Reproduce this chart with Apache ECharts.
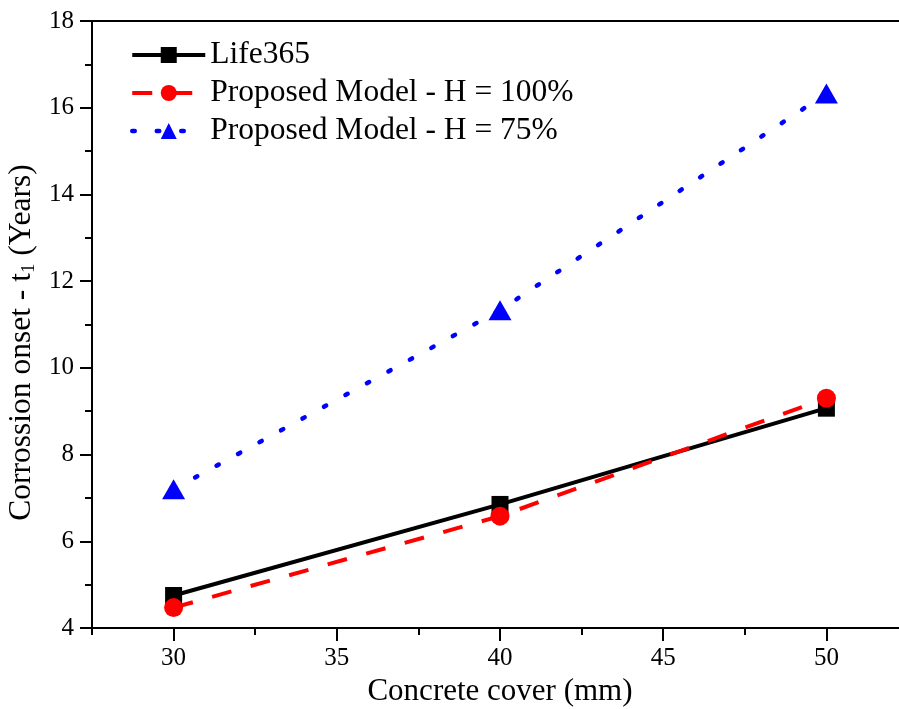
<!DOCTYPE html>
<html>
<head>
<meta charset="utf-8">
<script src="https://cdn.jsdelivr.net/npm/echarts@6/dist/echarts.min.js"></script>
<style>html,body{margin:0;padding:0;background:#fff}#c{width:899px;height:709px}</style>
</head>
<body>
<div id="c"></div>
<script>
var covers = [30, 40, 50];
var life365 = [4.75, 6.85, 9.07];
var modelH100 = [4.47, 6.58, 9.3];
var modelH75 = [7.2, 11.33, 16.33];
var xMajorTicks = [30, 35, 40, 45, 50];
var seriesNames = ['Life365', 'Proposed Model - H = 100%', 'Proposed Model - H = 75%'];

function pairs(ys) { return covers.map(function (x, i) { return [x, ys[i]]; }); }

var FONT = 'Liberation Serif';
var chart = echarts.init(document.getElementById('c'));
chart.setOption({
  animation: false,
  backgroundColor: '#fff',
  textStyle: { fontFamily: FONT, color: '#000' },
  grid: { left: 92, top: 21, width: 816, height: 607, outerBoundsMode: 'none', containLabel: false,
          show: true, borderColor: '#000', borderWidth: 2 },
  legend: {
    orient: 'vertical', left: 125, top: 34,
    itemWidth: 73, itemHeight: 20, itemGap: 6,
    textStyle: { fontFamily: FONT, fontSize: 31.5, color: '#000', lineHeight: 28 },
    data: [
      { name: seriesNames[0], lineStyle: { width: 4 } },
      { name: seriesNames[1], lineStyle: { width: 4 } },
      { name: seriesNames[2], lineStyle: { width: 4.5 } }
    ]
  },
  xAxis: [{
    type: 'value', min: 27.5, max: 52.5, interval: 2.5,
    name: 'Concrete cover (mm)', nameLocation: 'middle', nameGap: 45,
    nameTextStyle: { fontFamily: FONT, fontSize: 31, color: '#000' },
    axisLine: { show: true, onZero: false, lineStyle: { color: '#000', width: 2 } },
    axisTick: { show: true, length: 7, lineStyle: { color: '#000', width: 2 } },
    axisLabel: { customValues: xMajorTicks, margin: 18, fontFamily: FONT, fontSize: 25, color: '#000' },
    splitLine: { show: false }
  }, {
    type: 'value', min: 27.5, max: 52.5, interval: 2.5, position: 'bottom',
    axisLine: { show: false },
    axisTick: { show: true, customValues: xMajorTicks, length: 13, lineStyle: { color: '#000', width: 2 } },
    axisLabel: { show: false },
    splitLine: { show: false }
  }],
  yAxis: {
    type: 'value', min: 4, max: 18, interval: 2,
    name: 'Corrossion onset - t{s|1} (Years)', nameLocation: 'middle', nameGap: 42,
    nameTextStyle: {
      fontFamily: FONT, fontSize: 31.5, color: '#000', padding: [0, 36, 0, 0],
      rich: { s: { fontFamily: FONT, fontSize: 19, color: '#000', verticalAlign: 'bottom', padding: [14, 0, 0, 0] } }
    },
    axisLine: { show: true, onZero: false, lineStyle: { color: '#000', width: 2 } },
    axisTick: { show: true, length: 12, lineStyle: { color: '#000', width: 2 } },
    minorTick: { show: true, splitNumber: 2, length: 7, lineStyle: { color: '#000', width: 2 } },
    axisLabel: { margin: 18, fontFamily: FONT, fontSize: 25, color: '#000' },
    splitLine: { show: false }
  },
  series: [{
    name: seriesNames[0], type: 'line', data: pairs(life365),
    symbol: 'rect', symbolSize: 17, itemStyle: { color: '#000' },
    lineStyle: { color: '#000', width: 4 }, z: 2
  }, {
    name: seriesNames[1], type: 'line', data: pairs(modelH100),
    symbol: 'circle', symbolSize: 19, itemStyle: { color: '#ff0000' },
    lineStyle: { color: '#ff0000', width: 4, type: [20, 20] }, z: 3
  }, {
    name: seriesNames[2], type: 'line', data: pairs(modelH75),
    symbol: 'triangle', symbolSize: [23, 20], itemStyle: { color: '#0000ff' },
    lineStyle: { color: '#0000ff', width: 4.5, type: [2.5, 22], cap: 'round' }, z: 4
  }]
});
</script>
</body>
</html>
